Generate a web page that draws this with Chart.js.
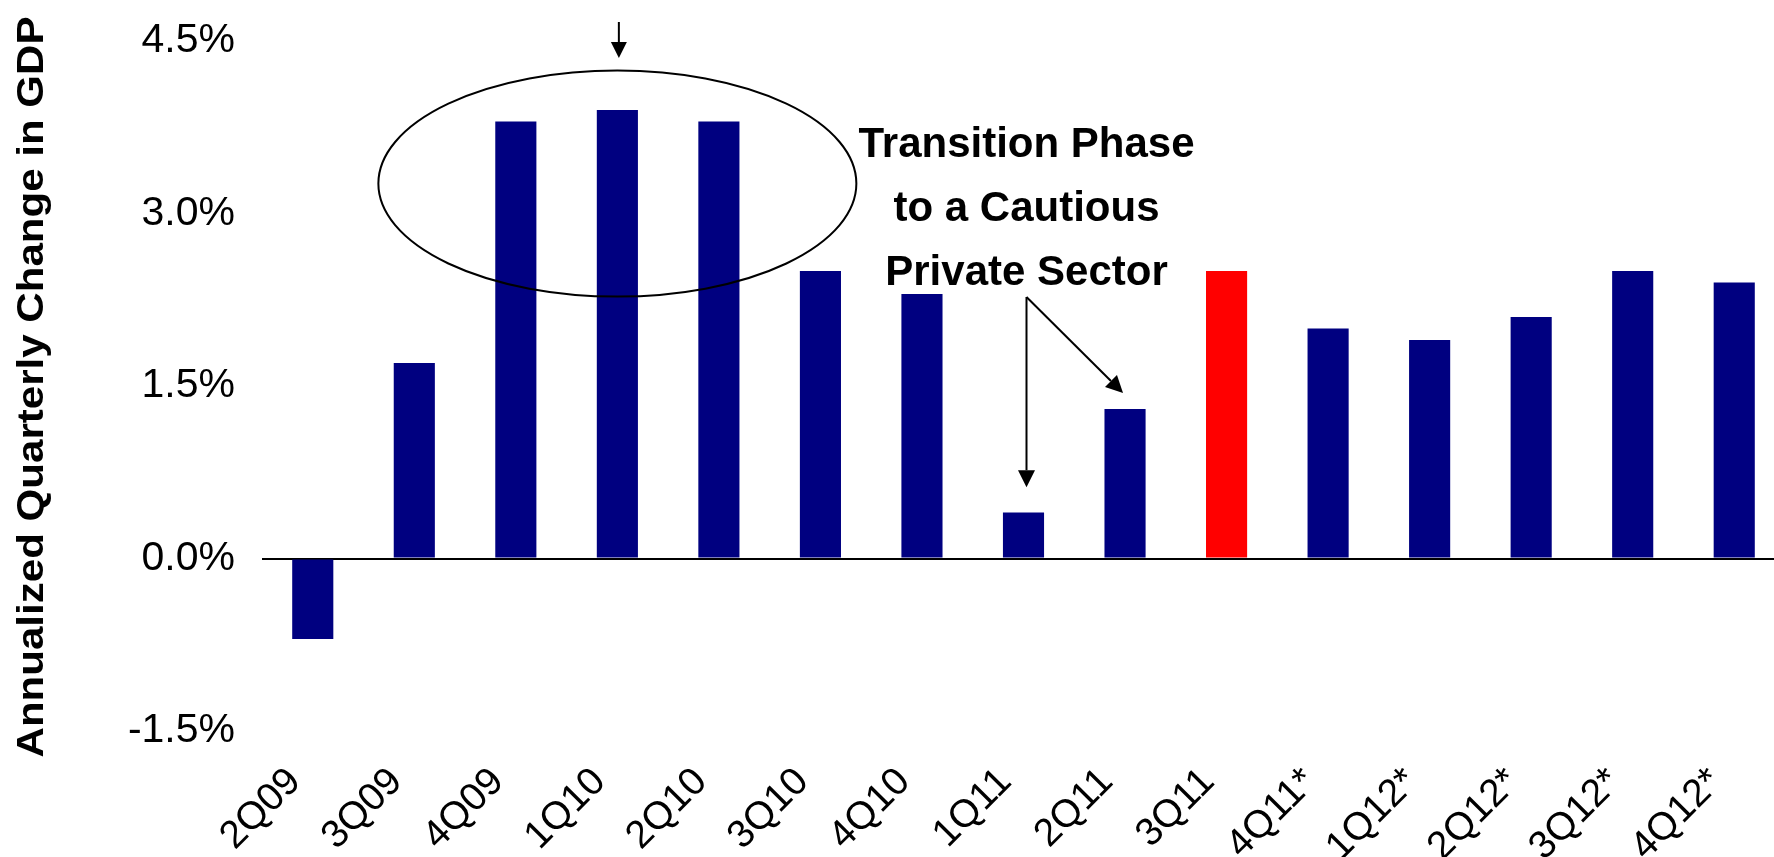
<!DOCTYPE html>
<html>
<head>
<meta charset="utf-8">
<script src="https://cdn.jsdelivr.net/npm/chart.js@4/dist/chart.umd.min.js"></script>
<style>
  html, body { margin: 0; padding: 0; background: #fff; overflow: hidden; }
  #wrap { width: 1774px; height: 857px; overflow: hidden; }
  canvas { display: block; }
</style>
</head>
<body>
<div id="wrap"><canvas id="gdpChart" width="1785" height="857"></canvas></div>
<script>
const quarters = ['2Q09', '3Q09', '4Q09', '1Q10', '2Q10', '3Q10', '4Q10', '1Q11', '2Q11', '3Q11',
  '4Q11*', '1Q12*', '2Q12*', '3Q12*', '4Q12*'];
const gdpChange = [-0.7, 1.7, 3.8, 3.9, 3.8, 2.5, 2.3, 0.4, 1.3, 2.5, 2.0, 1.9, 2.1, 2.5, 2.4];
const latestQuarter = '3Q11';
const yTicks = [-1.5, 0, 1.5, 3.0, 4.5];
const axisTitle = 'Annualized Quarterly Change in GDP';
const noteLines = ['Transition Phase', 'to a Cautious', 'Private Sector'];

const FONT = '"Liberation Sans", Arial, sans-serif';

function arrow(ctx, x1, y1, x2, y2, len, half) {
  const a = Math.atan2(y2 - y1, x2 - x1);
  const bx = x2 - len * Math.cos(a), by = y2 - len * Math.sin(a);
  ctx.beginPath();
  ctx.moveTo(x1, y1);
  ctx.lineTo(bx, by);
  ctx.stroke();
  ctx.beginPath();
  ctx.moveTo(x2, y2);
  ctx.lineTo(bx + half * Math.sin(a), by - half * Math.cos(a));
  ctx.lineTo(bx - half * Math.sin(a), by + half * Math.cos(a));
  ctx.closePath();
  ctx.fill();
}

// y-axis title (stretched along its length) plus the ellipse, arrows and note
const annotations = {
  id: 'annotations',
  afterDraw(chart) {
    const { ctx, scales: { x, y } } = chart;
    ctx.save();
    ctx.fillStyle = '#000';
    ctx.strokeStyle = '#000';

    ctx.save();
    ctx.translate(43, 387);
    ctx.rotate(-Math.PI / 2);
    ctx.font = 'bold 36px ' + FONT;
    const w = ctx.measureText(axisTitle).width;
    ctx.scale(741 / w, 1);
    ctx.textAlign = 'center';
    ctx.textBaseline = 'alphabetic';
    ctx.fillText(axisTitle, 0, 0);
    ctx.restore();

    // circle round the stimulus peak
    const peakX = x.getPixelForValue(3);
    ctx.lineWidth = 2;
    ctx.beginPath();
    ctx.ellipse(peakX, y.getPixelForValue(3.26), 239, 113, 0, 0, Math.PI * 2);
    ctx.stroke();

    arrow(ctx, peakX + 1.5, 22, peakX + 1.5, 58, 16, 8);

    // transition note with its two pointers
    const noteX = x.getPixelForValue(7) + 3;
    ctx.font = 'bold 42px ' + FONT;
    ctx.textAlign = 'center';
    ctx.textBaseline = 'alphabetic';
    noteLines.forEach((t, i) => ctx.fillText(t, noteX, 157 + i * 64));

    arrow(ctx, noteX, 297, noteX, y.getPixelForValue(0.62), 17, 8.5);
    arrow(ctx, noteX, 297, x.getPixelForValue(8) - 2, y.getPixelForValue(1.44), 17, 8.5);
    ctx.restore();
  }
};

new Chart(document.getElementById('gdpChart'), {
  type: 'bar',
  data: {
    labels: quarters,
    datasets: [{
      data: gdpChange,
      backgroundColor: quarters.map(q => q === latestQuarter ? '#FF0000' : '#000080'),
      borderWidth: 0,
      barPercentage: 0.405,
      categoryPercentage: 1
    }]
  },
  options: {
    responsive: false,
    animation: false,
    devicePixelRatio: 1,
    layout: { padding: { left: 0, top: 41, right: 0, bottom: 0 } },
    plugins: {
      legend: { display: false },
      tooltip: { enabled: false }
    },
    scales: {
      x: {
        grid: { display: false },
        border: { display: false },
        ticks: {
          autoSkip: false,
          minRotation: 45,
          maxRotation: 45,
          padding: 20,
          labelOffset: -18,
          color: '#000',
          font: { family: FONT, size: 39 }
        },
        afterFit(scale) {
          scale.height = 126;
          scale.paddingLeft = 0;
          scale.paddingRight = 0;
        }
      },
      y: {
        min: -1.5,
        max: 4.5,
        afterBuildTicks(scale) { scale.ticks = yTicks.map(v => ({ value: v })); },
        grid: {
          drawTicks: false,
          color: c => (c.tick && c.tick.value === 0 ? '#000' : 'rgba(0,0,0,0)'),
          lineWidth: 2
        },
        border: { display: false },
        ticks: {
          padding: 27,
          color: '#000',
          font: { family: FONT, size: 41 },
          callback: v => v.toFixed(1) + '%'
        },
        afterFit(scale) {
          scale.width = 262;
          scale.paddingTop = 0;
          scale.paddingBottom = 0;
        }
      }
    }
  },
  plugins: [annotations]
});
</script>
</body>
</html>
